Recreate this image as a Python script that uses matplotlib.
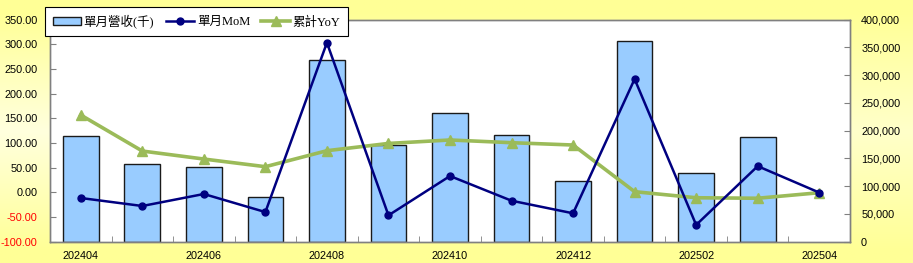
import matplotlib
matplotlib.use("Agg")
import matplotlib.pyplot as plt
import numpy as np
from matplotlib.ticker import FuncFormatter, FixedLocator
from matplotlib.patches import Patch
from matplotlib.lines import Line2D

# data
months = ["202404", "202405", "202406", "202407", "202408", "202409", "202410",
          "202411", "202412", "202501", "202502", "202503", "202504"]
revenue = [190800, 140400, 135000, 81000, 327000, 174600, 231000,
           192000, 109800, 361800, 123000, 188000, np.nan]
mom = [-11.5, -27.7, -3.4, -40.0, 303.0, -46.6, 33.0, -17.0, -42.5, 229.4, -66.0, 53.0, -0.5]
yoy = [156.5, 83.6, 67.4, 51.9, 84.3, 99.0, 106.0, 100.5, 95.8, 1.3, -11.0, -12.0, -0.8]

left_ticks = [-100, -50, 0, 50, 100, 150, 200, 250, 300, 350]
right_ticks = [0, 50000, 100000, 150000, 200000, 250000, 300000, 350000, 400000]

W, H = 913, 263
fig = plt.figure(figsize=(W / 100, H / 100), dpi=100)
plt.rcParams['font.family'] = ['Liberation Sans', 'Noto Sans CJK TC']

# yellow gradient background
bg = fig.add_axes([0, 0, 1, 1], zorder=-10)
yy = np.linspace(0, 1, 200)[:, None]
xx = np.linspace(0, 1, 400)[None, :]
w = np.clip(1 - np.abs(yy - 0.5) * 2.2, 0, 1) * (0.85 - 0.25 * xx)
top = np.array([255, 255, 150]) / 255
light = np.array([255, 255, 235]) / 255
img = top[None, None, :] * (1 - w[..., None]) + light[None, None, :] * w[..., None]
bg.imshow(img, aspect='auto', extent=[0, 1, 0, 1])
bg.axis('off')

ax = fig.add_axes([50 / W, 1 - 241.7 / H, 800 / W, 222.2 / H])
ax2 = ax.twinx()
ax.set_zorder(1)
ax2.set_zorder(2)
ax2.patch.set_visible(False)
ax.set_facecolor('white')

x = np.arange(len(months))
rev_plot = [0 if np.isnan(v) else v for v in revenue]
bars = ax.bar(x, rev_plot, width=0.58, color='#99CCFF', edgecolor='#1a1a1a', linewidth=1.0)
bars[-1].set_visible(False)

ax2.plot(x, mom, color='#000080', lw=1.8, marker='o', ms=5, zorder=4)
ax2.plot(x, yoy, color='#9BBB59', lw=2.6, marker='^', ms=6.5, zorder=3)

# axes: bars on right scale, lines on left scale
ax.set_ylim(0, 400000)
ax2.set_ylim(-100, 350)
ax.set_xlim(-0.5, len(months) - 0.5)
ax.yaxis.tick_right()
ax2.yaxis.tick_left()
ax.set_yticks(right_ticks)
ax.yaxis.set_major_formatter(FuncFormatter(lambda v, p: f"{int(v):,}"))
ax2.set_yticks(left_ticks)
ax2.yaxis.set_major_formatter(FuncFormatter(lambda v, p: f"{v:.2f}"))

ax.set_xticks(x[::2])
ax.set_xticklabels(months[::2])
ax.xaxis.set_minor_locator(FixedLocator(x[1:] - 0.5))
ax.tick_params(axis='x', which='major', length=0, pad=7, labelsize=7.8)
ax.tick_params(axis='x', which='minor', direction='in', length=4, color='#808080')
ax.tick_params(axis='y', direction='in', length=4, color='#808080', pad=8, labelsize=7.8)
ax2.tick_params(axis='y', direction='in', length=4, color='#808080', pad=9, labelsize=7.8)
for lab, v in zip(ax2.get_yticklabels(), left_ticks):
    lab.set_color('red' if v < 0 else 'black')

for a in (ax, ax2):
    for s in a.spines.values():
        s.set_color('#808080')
        s.set_linewidth(1.0)

handles = [Patch(facecolor='#99CCFF', edgecolor='#1a1a1a', lw=1.0),
           Line2D([], [], color='#000080', lw=1.8, marker='o', ms=5),
           Line2D([], [], color='#9BBB59', lw=2.6, marker='^', ms=6.5)]
leg = ax2.legend(handles, ["單月營收(千)", "單月MoM", "累計YoY"], ncol=3,
                 loc='upper left', bbox_to_anchor=(45 / W, 1 - 7 / H),
                 bbox_transform=fig.transFigure, borderaxespad=0, frameon=True,
                 fancybox=False, edgecolor='black', framealpha=1,
                 handlelength=2.3, handleheight=0.55, columnspacing=0.9,
                 handletextpad=0.2, borderpad=0.6,
                 prop={'family': ['Liberation Serif', 'Noto Sans CJK TC'], 'size': 9})
leg.get_frame().set_linewidth(0.8)
leg.set_zorder(10)

fig.savefig("out.png", dpi=100)
